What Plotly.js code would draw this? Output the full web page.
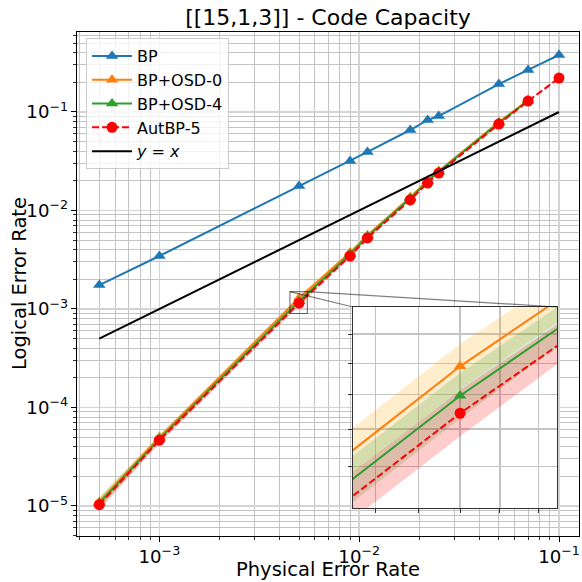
<!DOCTYPE html>
<html><head><meta charset="utf-8">
<script src="https://cdn.plot.ly/plotly-3.0.1.min.js"></script>
<style>html,body{margin:0;padding:0;background:#fff}#chart{width:582px;height:582px}</style>
</head><body><div id="chart"></div>
<script>
// ---- data ----
const pAll = [0.0005, 0.001, 0.005, 0.009, 0.011, 0.018, 0.022, 0.025, 0.05, 0.07, 0.1];
const pOSD = [0.0005, 0.001, 0.005, 0.009, 0.011, 0.018, 0.022, 0.025, 0.05, 0.07];
const bpVals = [0.00175, 0.00345, 0.0177, 0.0318, 0.0393, 0.0656, 0.083, 0.091, 0.192, 0.267, 0.379];
const osd0Vals = [1.1e-5, 5.0e-5, 1.29e-3, 3.75e-3, 5.6e-3, 1.36e-2, 2.02e-2, 2.52e-2, 7.9e-2, 0.132];
const osd0Lo = [0.97e-5, 4.67e-5, 1.218e-3, 3.62e-3, 5.45e-3, 1.335e-2, 1.99e-2, 2.49e-2, 7.85e-2, 0.131];
const osd0Hi = [1.24e-5, 5.36e-5, 1.365e-3, 3.88e-3, 5.75e-3, 1.385e-2, 2.05e-2, 2.55e-2, 7.95e-2, 0.133];
const osd4Vals = [1.07e-5, 4.8e-5, 1.197e-3, 3.6e-3, 5.45e-3, 1.33e-2, 1.98e-2, 2.47e-2, 7.75e-2, 0.130];
const osd4Lo = [0.94e-5, 4.47e-5, 1.13e-3, 3.47e-3, 5.3e-3, 1.305e-2, 1.95e-2, 2.44e-2, 7.7e-2, 0.129];
const osd4Hi = [1.21e-5, 5.16e-5, 1.268e-3, 3.73e-3, 5.6e-3, 1.355e-2, 2.01e-2, 2.50e-2, 7.8e-2, 0.131];
const autVals = [1.03e-5, 4.65e-5, 1.145e-3, 3.45e-3, 5.26e-3, 1.28e-2, 1.9e-2, 2.4e-2, 7.55e-2, 0.129, 0.221];
const autLo = [0.91e-5, 4.32e-5, 1.08e-3, 3.33e-3, 5.12e-3, 1.255e-2, 1.87e-2, 2.37e-2, 7.5e-2, 0.128, 0.220];
const autHi = [1.16e-5, 5.0e-5, 1.215e-3, 3.57e-3, 5.4e-3, 1.305e-2, 1.93e-2, 2.43e-2, 7.6e-2, 0.130, 0.222];
const refX = [0.0005, 0.1];
const names = ['BP', 'BP+OSD-0', 'BP+OSD-4', 'AutBP-5', '<i>y</i> = <i>x</i>'];
const titleText = '[[15,1,3]] - Code Capacity';
const xTitle = 'Physical Error Rate';
const yTitle = 'Logical Error Rate';
const insetX = [0.0045, 0.0055];
const insetY = [9e-4, 1.5e-3];
const insetTickX = [0.0046, 0.0048, 0.005, 0.0052, 0.0054];
const insetTickY = [1.0e-3, 1.1e-3, 1.2e-3, 1.3e-3, 1.4e-3];

// ---- layout constants ----
const LOG = Math.log10;
const xRange = [-3.4125, -0.9];
const yRange = [-5.305, -0.188];
const insetDomX = [0.55, 0.956];
const insetDomY = [0.0556, 0.4544];
const C = {blue:'#1f77b4', orange:'#ff7f0e', green:'#2ca02c', red:'#ff0000'};

function band(x, lo, hi, fill, xa, ya) {
  return [
    {x:x, y:lo, mode:'lines', line:{width:0}, showlegend:false, hoverinfo:'skip', xaxis:xa, yaxis:ya},
    {x:x, y:hi, mode:'lines', line:{width:0}, fill:'tonexty', fillcolor:fill, showlegend:false, hoverinfo:'skip', xaxis:xa, yaxis:ya}
  ];
}
function series(x, y, name, color, symbol, dash, xa, ya, legend) {
  return {x:x, y:y, name:name, mode:'lines+markers', xaxis:xa, yaxis:ya, showlegend:legend,
    line:{color:color, width:2, dash:dash},
    marker:{color:color, symbol:symbol, size:11, line:{width:0}}};
}
function allTraces(xa, ya, legend) {
  return [].concat(
    band(pOSD, osd0Lo, osd0Hi, 'rgba(255,165,0,0.2)', xa, ya),
    band(pOSD, osd4Lo, osd4Hi, 'rgba(44,160,44,0.2)', xa, ya),
    band(pAll, autLo, autHi, 'rgba(255,0,0,0.2)', xa, ya),
    [series(pAll, bpVals, names[0], C.blue, 'triangle-up', 'solid', xa, ya, legend),
     series(pOSD, osd0Vals, names[1], C.orange, 'triangle-up', 'solid', xa, ya, legend),
     series(pOSD, osd4Vals, names[2], C.green, 'triangle-up', 'solid', xa, ya, legend),
     series(pAll, autVals, names[3], C.red, 'circle', '7px,3px', xa, ya, legend),
     {x:refX, y:refX, name:names[4], mode:'lines', line:{color:'black', width:2}, xaxis:xa, yaxis:ya, showlegend:legend}]
  );
}
const data = allTraces('x', 'y', true).concat(allTraces('x2', 'y2', false));

const toPX = v => (LOG(v) - xRange[0]) / (xRange[1] - xRange[0]);
const toPY = v => (LOG(v) - yRange[0]) / (yRange[1] - yRange[0]);
const grey = 'rgba(0,0,0,0.5)';
const shapes = [
  {type:'rect', xref:'paper', yref:'paper', x0:toPX(insetX[0]), x1:toPX(insetX[1]), y0:toPY(insetY[0]), y1:toPY(insetY[1]), line:{color:grey, width:1.2}},
  {type:'line', xref:'paper', yref:'paper', x0:toPX(insetX[0]), y0:toPY(insetY[1]), x1:insetDomX[0], y1:insetDomY[1], line:{color:grey, width:1.2}},
  {type:'line', xref:'paper', yref:'paper', x0:toPX(insetX[1]), y0:toPY(insetY[1]), x1:insetDomX[1], y1:insetDomY[1], line:{color:grey, width:1.2}}
];

const mainAxis = {
  type:'log', dtick:1, exponentformat:'power', ticks:'outside', ticklen:5, tickwidth:1, tickcolor:'black',
  showline:true, mirror:true, linecolor:'black', linewidth:1, zeroline:false,
  showgrid:true, gridcolor:'#d4d4d4', gridwidth:1.6,
  minor:{dtick:'D1', ticks:'outside', ticklen:3, tickwidth:0.8, tickcolor:'black', showgrid:true, gridcolor:'#bdbdbd', gridwidth:0.9},
  tickfont:{size:14.5, color:'black'}
};
const insetAxis = {
  type:'log', showticklabels:false, ticks:'outside', ticklen:4, tickwidth:1, tickcolor:'#333',
  showline:true, mirror:true, linecolor:'#333', linewidth:1, zeroline:false,
  showgrid:true, gridcolor:'#c4c4c4', gridwidth:1.3
};

const layout = {
  width:582, height:582, margin:{l:77, r:3, t:32, b:46},
  paper_bgcolor:'white', plot_bgcolor:'#ffffff',
  font:{family:'DejaVu Sans', color:'black', size:16},
  title:{text:titleText, font:{size:22, color:'black'}, x:0.5, xref:'paper', xanchor:'center', y:1 - 17/582, yref:'container', yanchor:'middle'},
  xaxis: Object.assign({}, mainAxis, {range:xRange}),
  yaxis: Object.assign({}, mainAxis, {range:yRange}),
  xaxis2: Object.assign({}, insetAxis, {domain:insetDomX, anchor:'y2', range:[LOG(insetX[0]), LOG(insetX[1])], tickvals:insetTickX}),
  yaxis2: Object.assign({}, insetAxis, {domain:insetDomY, anchor:'x2', range:[LOG(insetY[0]), LOG(insetY[1])], tickvals:insetTickY}),
  legend:{x:0.018, y:0.988, xanchor:'left', yanchor:'top', traceorder:'normal', itemwidth:40,
          bgcolor:'rgba(255,255,255,0.8)', bordercolor:'#cccccc', borderwidth:1, font:{size:16}},
  annotations:[
    {text:yTitle, textangle:-90, xref:'paper', yref:'paper', x:-(77 - 19) / 502, y:0.5,
     xanchor:'center', yanchor:'middle', showarrow:false, font:{size:19.5, color:'black'}},
    {text:xTitle, xref:'paper', yref:'paper', x:0.5, y:-(569.5 - 536) / 504,
     xanchor:'center', yanchor:'middle', showarrow:false, borderpad:0, font:{size:19.5, color:'black'}}
  ],
  shapes:shapes
};
Plotly.newPlot('chart', data, layout, {displayModeBar:false, staticPlot:true});
</script></body></html>
